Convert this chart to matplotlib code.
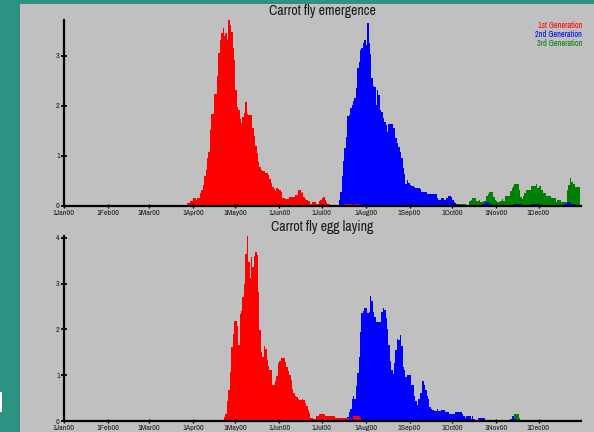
import numpy as np
import pandas as pd
import matplotlib
matplotlib.use('Agg')
import matplotlib.pyplot as plt
from matplotlib import font_manager
from matplotlib.patches import Rectangle

# daily counts, each run = (first day, values for consecutive days)
emerge_gen1 = [
    ('2000-03-28', [0.05, 0.05, 0.09, 0.09, 0.15, 0.15, 0.12, 0.15, 0.15, 0.25,
                    0.31, 0.41, 0.6, 0.71, 0.95, 1.08, 1.51, 1.83, 1.83, 2.23,
                    2.23, 2.59, 3.05, 3.31, 3.45, 3.55, 3.39, 3.45, 3.31,
                    3.71, 3.61, 3.48, 3.15, 2.91, 2.31, 1.98, 1.91, 1.73, 1.65,
                    1.77, 1.85, 2.08, 1.84, 1.81, 1.81, 1.81, 1.56, 1.39, 1.2,
                    1.05, 0.87, 0.77, 0.72, 0.7, 0.7, 0.66, 0.66, 0.62, 0.53,
                    0.45, 0.37, 0.33, 0.3, 0.35, 0.33, 0.31, 0.28,
                    0.15, 0.15, 0.13, 0.13, 0.13, 0.17, 0.17, 0.17, 0.17, 0.21,
                    0.21, 0.31, 0.31, 0.25, 0.28, 0.18, 0.13, 0.12, 0.09, 0.09,
                    0.04, 0.08, 0.08, 0.08, 0.04, 0.04, 0.09, 0.12, 0.15, 0.17,
                    0.12, 0.08, 0.04, 0.04]),
    ('2000-07-17', [0.03, 0.03, 0.03, 0.03, 0.03]),
    ('2000-07-24', [0.03, 0.03, 0.03, 0.03]),
]
emerge_gen2 = [
    ('2000-07-13', [0.11, 0.28, 0.6, 0.9, 1.16, 1.38, 1.79, 1.81, 1.96, 2.01,
                    2.1, 2.16, 2.35, 2.76, 2.88, 3.11, 3.15, 3.25, 3.31, 3.21,
                    3.65, 3.25, 3.03, 2.55, 2.4, 2.38, 2.01, 2.31, 2.21, 1.91,
                    1.88, 1.75, 1.68, 1.61, 1.48, 1.63, 1.63, 1.63, 1.55, 1.55,
                    1.35, 1.25, 1.18, 1.08, 0.95, 0.75, 0.63, 0.43, 0.51, 0.45,
                    0.42, 0.39, 0.39, 0.38, 0.35, 0.36, 0.36, 0.33, 0.28, 0.28,
                    0.28, 0.28, 0.23, 0.23, 0.23, 0.23, 0.23, 0.23, 0.23, 0.16,
                    0.11, 0.11, 0.16, 0.16, 0.11, 0.11, 0.15, 0.19, 0.19, 0.17,
                    0.11, 0.08, 0.05, 0.03]),
    ('2000-10-22', [0.03, 0.03, 0.08, 0.08, 0.08, 0.03, 0.03]),
    ('2000-11-14', [0.03, 0.03, 0.03, 0.03, 0.03]),
    ('2000-11-26', [0.03, 0.03, 0.03, 0.03, 0.03]),
    ('2000-12-19', [0.03, 0.03, 0.08, 0.08, 0.08, 0.03, 0.03, 0.03]),
]
emerge_gen3 = [
    ('2000-10-05', [0.03, 0.03, 0.03, 0.03, 0.03, 0.03, 0.01, 0.01, 0.1, 0.11,
                    0.15, 0.15, 0.15, 0.1, 0.1, 0.11, 0.07, 0.07, 0.09, 0.09,
                    0.19, 0.23, 0.27, 0.27, 0.27, 0.18, 0.11, 0.1, 0.07, 0.07,
                    0.1, 0.14, 0.09, 0.19, 0.19, 0.19, 0.19, 0.3, 0.36, 0.39,
                    0.43, 0.43, 0.43, 0.31, 0.17, 0.14, 0.19, 0.25, 0.31, 0.31,
                    0.31, 0.31, 0.39, 0.39, 0.39, 0.43, 0.36, 0.39, 0.39, 0.31,
                    0.25, 0.25, 0.19, 0.19, 0.19, 0.19, 0.15, 0.15, 0.15, 0.07,
                    0.11, 0.11, 0.11, 0.07, 0.07, 0.07, 0.07, 0.31, 0.41, 0.55,
                    0.48, 0.43, 0.43, 0.38, 0.38, 0.38]),
]

eggs_gen1 = [
    ('2000-04-23', [0.09, 0.15, 0.43, 0.67, 1.07, 1.61, 1.89, 2.18, 2.19, 2.08,
                    1.67, 2.34, 2.41, 2.7, 2.99, 3.65, 4.04, 3.48, 3.12, 3.58,
                    3.36, 3.6, 3.68, 3.63, 2.81, 1.99, 1.5, 1.4, 1.63, 1.58,
                    1.34, 1.2, 1.11, 1.11, 0.78, 0.78, 0.88, 0.98, 1.27, 1.32,
                    1.38, 1.38, 1.38, 1.29, 1.19, 1.1,
                    1.0, 0.9, 0.7, 0.62, 0.55, 0.53, 0.49, 0.46, 0.46, 0.49,
                    0.45, 0.4, 0.33, 0.24, 0.18, 0.06, 0.06, 0.04, 0.04, 0.11,
                    0.11, 0.15, 0.15, 0.15, 0.15,
                    0.11, 0.11, 0.11, 0.11, 0.11, 0.11, 0.11, 0.07, 0.07, 0.07,
                    0.07, 0.06, 0.06, 0.06, 0.06, 0.06, 0.06, 0.03, 0.03, 0.03,
                    0.11, 0.11, 0.11, 0.11, 0.11, 0.06]),
    ('2000-07-30', [0.02, 0.02, 0.02, 0.02, 0.02, 0.02, 0.02, 0.02, 0.02, 0.02, 0.02]),
    ('2000-09-08', [0.02, 0.02, 0.02, 0.02, 0.02, 0.02]),
    ('2000-10-28', [0.02, 0.02, 0.02, 0.02, 0.02, 0.02]),
]
eggs_gen2 = [
    ('2000-07-19', [0.08, 0.2, 0.26, 0.48, 0.54, 0.49, 0.76, 1.05, 1.4, 1.95,
                    2.35, 2.4, 2.47, 2.47, 2.35, 2.39, 2.72, 2.63, 2.39, 2.27,
                    2.16, 2.16, 2.16, 2.16, 2.39, 2.47, 2.43, 2.24, 2.0, 1.66,
                    1.3, 1.11, 1.03, 1.27, 1.54, 1.79, 1.76, 1.87, 1.63, 1.19,
                    1.11, 0.95, 1.0, 1.0, 1.0, 0.78, 0.78, 0.54, 0.43, 0.35,
                    0.48, 0.62, 0.62, 0.87, 0.78, 0.67, 0.54, 0.49, 0.31, 0.26,
                    0.24, 0.22, 0.22, 0.26, 0.22, 0.22, 0.25, 0.25, 0.25, 0.2,
                    0.2, 0.2, 0.15, 0.15, 0.15, 0.15, 0.2, 0.2, 0.2, 0.2,
                    0.2, 0.15, 0.11, 0.07, 0.11, 0.11, 0.11, 0.05, 0.11, 0.05,
                    0.02, 0.02, 0.07, 0.07, 0.07, 0.07, 0.07, 0.02]),
    ('2000-11-11', [0.05, 0.1, 0.11, 0.05]),
]
eggs_gen3 = [
    ('2000-10-19', [0.02, 0.02, 0.02, 0.02, 0.02, 0.02, 0.02]),
    ('2000-11-11', [0.03, 0.03, 0.08, 0.15, 0.15, 0.15, 0.07, 0.03]),
    ('2000-12-24', [0.03, 0.03, 0.03, 0.03, 0.03, 0.03]),
]

month_labels = ['1Jan00', '1Feb00', '1Mar00', '1Apr00', '1May00', '1Jun00',
                '1Jul00', '1Aug00', '1Sep00', '1Oct00', '1Nov00', '1Dec00']
gen_labels = ['1st Generation', '2nd Generation', '3rd Generation']
titles = ['Carrot fly emergence', 'Carrot fly egg laying']

gen_colors = ['#ff0000', '#0000ff', '#008000']
W, H = 594, 432

# narrow font, like the original chart
names = {f.name for f in font_manager.fontManager.ttflist}
narrow = next((n for n in ['Liberation Sans Narrow', 'Archivo Narrow'] if n in names),
              'Liberation Sans')
plt.rcParams['font.family'] = [narrow, 'DejaVu Sans']


def to_day(date):
    return pd.Timestamp(date).dayofyear - 1


def draw_runs(ax, runs, color):
    top = 0
    for start, vals in runs:
        d0 = to_day(start)
        edges = np.arange(d0, d0 + len(vals) + 1)
        ax.stairs(vals, edges, fill=True, color=color, linewidth=0)
        top = max(top, max(vals))
    return top


fig = plt.figure(figsize=(W / 100, H / 100), dpi=100, facecolor='#2c9282')
fig.add_artist(Rectangle((20 / W, 0), (W - 20) / W, (H - 4) / H,
                         transform=fig.transFigure, facecolor='#c0c0c0',
                         edgecolor='none', zorder=-10))
fig.add_artist(Rectangle((0, 1 - 412 / H), 2 / W, 20 / H,
                         transform=fig.transFigure, facecolor='white',
                         edgecolor='none', zorder=-9))

month_pos = pd.date_range('2000-01-01', '2000-12-01', freq='MS').dayofyear - 1

panels = [
    ([emerge_gen1, emerge_gen2, emerge_gen3], 205.7, 185.7, 15.5),
    ([eggs_gen1, eggs_gen2, eggs_gen3], 421, 185, 230.7),
]

for (series, base_px, height_px, title_px), title in zip(panels, titles):
    ax = fig.add_axes([64 / W, 1 - base_px / H, 517 / W, height_px / H])
    ax.set_facecolor('#c0c0c0')
    top = 0
    # later generations go underneath, earlier ones drawn on top
    for runs, color in reversed(list(zip(series, gen_colors))):
        top = max(top, draw_runs(ax, runs, color))
    ax.set_xlim(0, 365)
    ax.set_ylim(0, top)
    ax.set_yticks(np.arange(0, int(top) + 1))
    ax.set_xticks(month_pos)
    ax.set_xticklabels(month_labels)
    for s in ['top', 'right']:
        ax.spines[s].set_visible(False)
    for s in ['left', 'bottom']:
        ax.spines[s].set_linewidth(1.6)
        ax.spines[s].set_color('black')
    ax.tick_params(axis='x', direction='inout', length=3, width=1,
                   pad=1.5, labelsize=5.8, labelcolor='#1a1a1a')
    ax.tick_params(axis='y', direction='inout', length=4, width=1.3,
                   pad=1, labelsize=5.8, labelcolor='#1a1a1a')
    fig.text(322.5 / W, 1 - title_px / H, title, ha='center', va='baseline',
             fontsize=10, color='#1a1a1a')

for i, (label, color) in enumerate(zip(gen_labels, gen_colors)):
    fig.text(582 / W, 1 - (25 + 9.5 * i) / H, label, ha='right', va='center',
             fontsize=5.9, color=color)

fig.savefig('out.png', dpi=100, facecolor=fig.get_facecolor())
